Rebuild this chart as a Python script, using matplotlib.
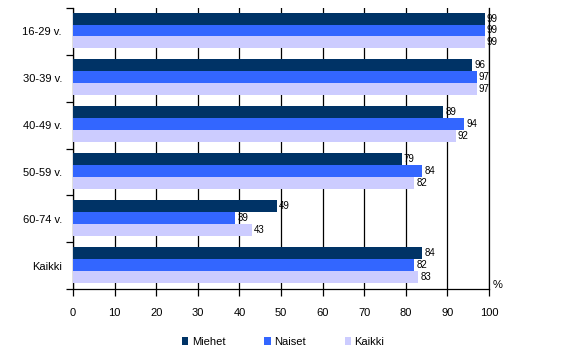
import numpy as np
import matplotlib.pyplot as plt

plt.rcParams['font.family'] = ['Liberation Sans', 'DejaVu Sans']

categories = ['16-29 v.', '30-39 v.', '40-49 v.', '50-59 v.', '60-74 v.', 'Kaikki']
miehet = [99, 96, 89, 79, 49, 84]
naiset = [99, 97, 94, 84, 39, 82]
kaikki = [99, 97, 92, 82, 43, 83]
series = [('Miehet', miehet, '#003366'),
          ('Naiset', naiset, '#3366FF'),
          ('Kaikki', kaikki, '#CCCCFF')]

fig = plt.figure(figsize=(5.76, 3.6), dpi=100)
ax = fig.add_axes([73 / 576, 71 / 360, 416 / 576, 281 / 360])

n = len(categories)
bar_h = 0.255
y = np.arange(n)
for i, (name, vals, col) in enumerate(series):
    pos = y - bar_h + i * bar_h - 0.02
    ax.barh(pos, vals, height=bar_h, color=col, label=name, zorder=3)
    for p, v in zip(pos, vals):
        ax.text(v + 0.5, p, str(v), va='center', ha='left', fontsize=7, zorder=4)

ax.set_xlim(0, 100)
ax.set_ylim(n - 0.5, -0.5)
ax.set_xticks(range(0, 101, 10))
ax.xaxis.grid(True, color='black', linewidth=0.9, zorder=0)
# gridline at 100 sits on the edge, keep it from being clipped
ax.axvline(100, color='black', linewidth=0.9, clip_on=False, zorder=0)
ax.set_yticks(np.arange(-0.5, n, 1.0))
ax.set_yticklabels([])
ax.set_yticks(y, minor=True)
ax.set_yticklabels(categories, minor=True, fontsize=8)
ax.tick_params(axis='y', which='minor', length=0, pad=8)
ax.tick_params(axis='y', which='major', length=5, direction='out', width=0.9)
ax.tick_params(axis='x', length=5, direction='out', width=0.9, labelsize=8, pad=9)
for s in ['top', 'right']:
    ax.spines[s].set_visible(False)
for s in ['left', 'bottom']:
    ax.spines[s].set_linewidth(0.9)

ax.text(1.008, -0.005, '%', transform=ax.transAxes, fontsize=8, ha='left', va='bottom')

ax.legend(loc='upper center', bbox_to_anchor=(0.505, -0.135), ncol=3, frameon=False,
          fontsize=8, handlelength=0.6, handleheight=0.6, columnspacing=3.5,
          handletextpad=0.3)

fig.savefig('out.png', dpi=100)
